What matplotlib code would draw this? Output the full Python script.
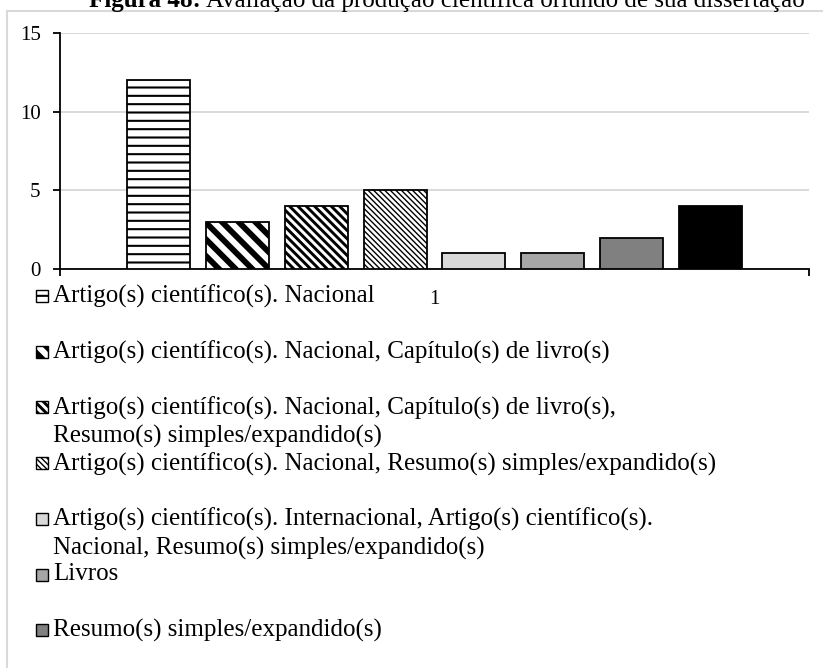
import matplotlib
matplotlib.use("Agg")
import matplotlib.pyplot as plt
from matplotlib.patches import Rectangle

plt.rcParams['font.family'] = ['Liberation Serif', 'DejaVu Serif']

# one category, eight answers
category = ['1']
values = [12, 3, 4, 5, 1, 1, 2, 4]
labels = [
    'Artigo(s) científico(s). Nacional',
    'Artigo(s) científico(s). Nacional, Capítulo(s) de livro(s)',
    'Artigo(s) científico(s). Nacional, Capítulo(s) de livro(s),\nResumo(s) simples/expandido(s)',
    'Artigo(s) científico(s). Nacional, Resumo(s) simples/expandido(s)',
    'Artigo(s) científico(s). Internacional, Artigo(s) científico(s).\nNacional, Resumo(s) simples/expandido(s)',
    'Livros',
    'Resumo(s) simples/expandido(s)',
]

# fill styles for each bar
colors = ['white', 'white', 'white', 'white', '#d9d9d9', '#a6a6a6', '#808080', 'black']
hatches = ['--', '\\' * 2, '\\' * 4, '\\' * 6, None, None, None, None]
hatch_lw = [1.5, 4.2, 2.1, 1.0, 1.0, 1.0, 1.0, 1.0]

FS = 18
W, H = 823, 668
fig = plt.figure(figsize=(W / 100, H / 100), dpi=100)
ax = fig.add_axes([60 / W, 1 - 269 / H, 749 / W, 236 / H])

for i, v in enumerate(values):
    with plt.rc_context({'hatch.linewidth': hatch_lw[i]}):
        ax.bar(i, v, width=0.8, color=colors[i], edgecolor='black',
               linewidth=1.3, hatch=hatches[i], zorder=3)

ax.set_xlim(-1.25, len(values) + 0.25)
ax.set_ylim(0, 15)
ax.set_yticks([0, 5, 10, 15])
ax.grid(axis='y', color='#d9d9d9', linewidth=1.4, zorder=0)
ax.set_axisbelow(True)
for s in ['top', 'right']:
    ax.spines[s].set_visible(False)
for s in ['left', 'bottom']:
    ax.spines[s].set_linewidth(1.3)
ax.tick_params(axis='y', length=5, width=1.3, pad=9, labelsize=15)

# ticks only at the axis ends, category name in the middle
ax.set_xticks(ax.get_xlim(), ['', ''])
ax.set_xticks([(len(values) - 1) / 2], category, minor=True)
ax.tick_params(axis='x', which='major', length=5, width=1.3)
ax.tick_params(axis='x', which='minor', length=0, pad=15, labelsize=15)

# chart area frame
fig.add_artist(Rectangle((7 / W, -0.1), 1.2, 1.1 - 11 / H, transform=fig.transFigure,
                         facecolor='none', edgecolor='#d9d9d9', linewidth=1.5, zorder=0))

# title, partly cut off at the top; bold prefix then plain text, right end at 805 px
t1 = fig.text(0, 1 - 7.5 / H, 'Figura 48:', fontsize=FS, fontweight='bold',
              ha='left', va='baseline')
t2 = fig.text(0, 1 - 7.5 / H, 'Avaliação da produção científica oriundo de sua dissertação',
              fontsize=FS, ha='left', va='baseline')
fig.canvas.draw()
w1 = t1.get_window_extent().width
w2 = t2.get_window_extent().width
x0 = 805 - (w1 + 5 + w2)
t1.set_x(x0 / W)
t2.set_x((x0 + w1 + 5) / W)

# legend below the plot
for i, lab in enumerate(labels):
    yc = 296 + i * 55.7
    sw = Rectangle((36 / W, 1 - (yc + 6) / H), 12 / W, 12 / H, transform=fig.transFigure,
                   facecolor=colors[i], edgecolor='black', linewidth=1.0)
    if hatches[i]:
        sw.set_hatch(hatches[i])
        if hasattr(sw, 'set_hatch_linewidth'):
            sw.set_hatch_linewidth(hatch_lw[i])
    fig.add_artist(sw)
    fig.text(53 / W, 1 - (yc - 11) / H, lab, fontsize=FS, ha='left', va='top',
             linespacing=1.3)

fig.savefig('out.png', dpi=100)
